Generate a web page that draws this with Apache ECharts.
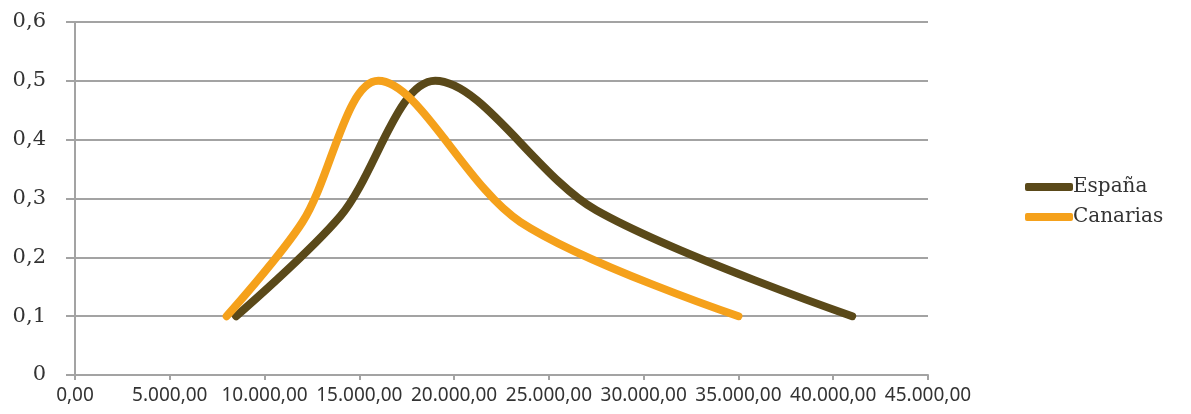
<!DOCTYPE html>
<html>
<head>
<meta charset="utf-8">
<script src="https://cdn.jsdelivr.net/npm/echarts@6/dist/echarts.min.js"></script>
<style>
html,body{margin:0;padding:0;background:#fff;}
#chart{width:1191px;height:414px;}
</style>
</head>
<body>
<div id="chart"></div>
<script>
// Data
var seriesNames = ['España', 'Canarias'];
var espanaX = [8500, 14000, 19000, 27500, 41000];
var espanaY = [0.1, 0.27, 0.5, 0.28, 0.1];
var canariasX = [8000, 12000, 16000, 23500, 35000];
var canariasY = [0.1, 0.26, 0.5, 0.26, 0.1];
var xTicks = {min: 0, max: 45000, interval: 5000};
var yTicks = {min: 0, max: 0.6, interval: 0.1};

function pairs(xs, ys) { return xs.map(function (x, i) { return [x, ys[i]]; }); }
function fmtX(v) {
  var s = Math.round(v).toString().replace(/\B(?=(\d{3})+(?!\d))/g, '.');
  return s + ',00';
}
function fmtY(v) { return v === 0 ? '0' : v.toFixed(1).replace('.', ','); }

var chart = echarts.init(document.getElementById('chart'), null, {renderer: 'canvas'});
var axisGray = '#a3a3a3';
chart.setOption({
  animation: false,
  backgroundColor: '#ffffff',
  grid: {left: 75, right: 263, top: 22, bottom: 39, containLabel: false},
  legend: {
    orient: 'vertical',
    left: 1020, top: 172,
    itemWidth: 48, itemHeight: 8, itemGap: 10,
    icon: 'roundRect',
    textStyle: {fontFamily: 'DejaVu Serif', fontSize: 20, color: '#333', padding: [0, 0, 0, -5]},
    data: seriesNames
  },
  xAxis: {
    type: 'value', min: xTicks.min, max: xTicks.max, interval: xTicks.interval,
    axisLine: {show: true, lineStyle: {color: axisGray, width: 2}},
    axisTick: {show: true, length: 5, lineStyle: {color: axisGray, width: 2}},
    splitLine: {show: false},
    axisLabel: {formatter: fmtX, fontFamily: 'Noto Sans', fontSize: 19, color: '#333', margin: 11}
  },
  yAxis: {
    type: 'value', min: yTicks.min, max: yTicks.max, interval: yTicks.interval,
    axisLine: {show: true, lineStyle: {color: axisGray, width: 2}},
    axisTick: {show: true, length: 9, lineStyle: {color: axisGray, width: 2}},
    splitLine: {show: true, lineStyle: {color: axisGray, width: 2}},
    axisLabel: {formatter: fmtY, fontFamily: 'DejaVu Serif', fontSize: 21, color: '#333', margin: 29}
  },
  series: [
    {
      name: seriesNames[0], type: 'line', data: pairs(espanaX, espanaY),
      smooth: 0.33, showSymbol: false, symbol: 'none',
      itemStyle: {color: '#5a4919'},
      lineStyle: {color: '#5a4919', width: 8, cap: 'round', join: 'round'}
    },
    {
      name: seriesNames[1], type: 'line', data: pairs(canariasX, canariasY),
      smooth: 0.33, showSymbol: false, symbol: 'none',
      itemStyle: {color: '#f5a11b'},
      lineStyle: {color: '#f5a11b', width: 8, cap: 'round', join: 'round'}
    }
  ]
});
</script>
</body>
</html>
